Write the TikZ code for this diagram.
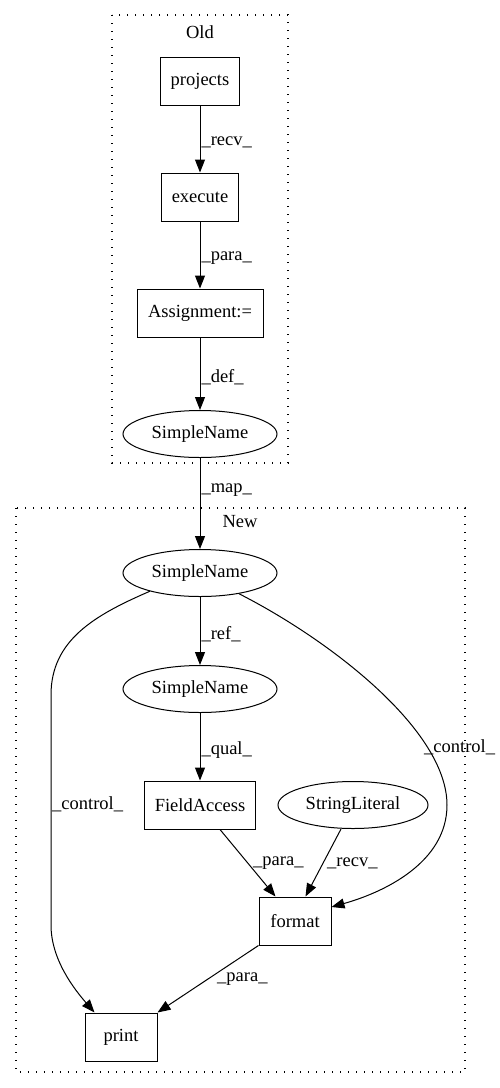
\documentclass[tikz,border=0pt]{standalone}
\usepackage{fontspec}
\setmainfont{Liberation Serif}
\usetikzlibrary{shapes.geometric,arrows.meta,calc}
\begin{document}
\begin{tikzpicture}[x=1pt,y=-1pt,
  every node/.style={font=\fontsize{18.5}{22}\selectfont},
  boxnode/.style={draw,line width=1pt,rectangle,minimum height=48pt,inner sep=0pt},
  ellnode/.style={draw,line width=1pt,ellipse,minimum height=47pt,inner sep=0pt},
  edge/.style={line width=1pt,-{Triangle[length=13pt,width=10pt]}},
  lbl/.style={inner sep=1pt,anchor=west},
  cluster/.style={line width=1.3pt,dash pattern=on 1.3pt off 6.7pt}
]
\useasboundingbox (0,0) rectangle (500,1088);
% clusters
\draw[cluster] (112,15) rectangle (288,463);
\node (oldt) at (200,32) {Old};
\draw[cluster] (16,508) rectangle (465,1072);
\node (newt) at (240,522) {New};
% old nodes
\node[boxnode,minimum width=79pt] (projects) at (200,81) {projects};
\node[boxnode,minimum width=77pt] (execute) at (200,197) {execute};
\node[boxnode,minimum width=126pt] (assign) at (200,313) {Assignment:=};
\node[ellnode,minimum width=154pt] (sn0) at (200,434) {SimpleName};
% new nodes
\node[ellnode,minimum width=154pt] (sn1) at (200,573) {SimpleName};
\node[ellnode,minimum width=154pt] (sn2) at (200,689) {SimpleName};
\node[boxnode,minimum width=111pt] (field) at (200,805) {FieldAccess};
\node[ellnode,minimum width=150pt] (strlit) at (353,805) {StringLiteral};
\node[boxnode,minimum width=72pt] (format) at (295,921) {format};
\node[boxnode,minimum width=72pt] (print) at (121,1037) {print};
% edges
\draw[edge] (projects) -- node[lbl,pos=0.55] {\_recv\_} (execute);
\draw[edge] (execute) -- node[lbl,pos=0.55] {\_para\_} (assign);
\draw[edge] (assign) -- node[lbl,pos=0.55] {\_def\_} (sn0);
\draw[edge] (sn0) -- node[lbl,pos=0.35] {\_map\_} (sn1);
\draw[edge] (sn1) -- node[lbl,pos=0.55] {\_ref\_} (sn2);
\draw[edge] (sn2) -- node[lbl,pos=0.55] {\_qual\_} (field);
\draw[edge] (sn1.200) .. controls (95,615) and (51,640) .. (51,695) -- (51,925) .. controls (51,960) and (75,990) .. ($(print.north west)+(10,0)$);
\node[lbl] (lc1) at (51,804) {\_control\_};
\draw[edge] (sn1.332) .. controls (330,640) and (447,730) .. (447,805) .. controls (447,862) and (385,892) .. ($(format.east)+(0,-14)$);
\node[lbl] (lc2) at (423,747) {\_control\_};
\draw[edge] (field.south east)++(-36,0) coordinate (fa) (fa) -- ($(format.north west)+(17,0)$);
\node[lbl] (lp1) at (252,863) {\_para\_};
\draw[edge] ($(strlit.south)+(-12,0)$) coordinate (sa) -- ($(format.north east)+(-26,0)$);
\node[lbl] (lr1) at (326,863) {\_recv\_};
\draw[edge] (format.south west) -- (print.north east);
\node[lbl] (lp2) at (216,979) {\_para\_};
\end{tikzpicture}
\end{document}
